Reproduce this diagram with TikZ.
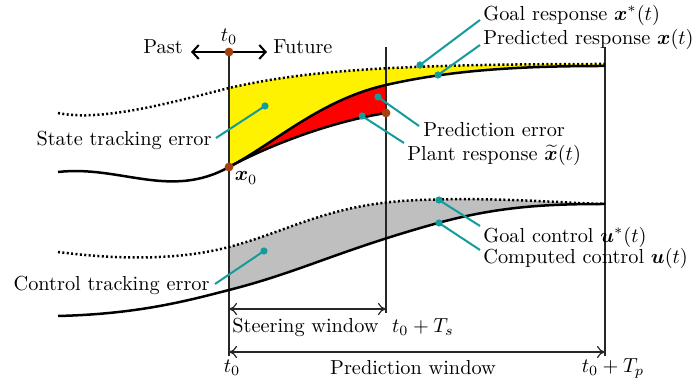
\RequirePackage{fix-cm}
\documentclass[tikz,border=0pt]{standalone}
\usepackage{amsmath,bm}
\usetikzlibrary{arrows.meta}
\definecolor{lead}{RGB}{20,155,155}
\definecolor{dotbrown}{RGB}{165,65,15}
\begin{document}
\begin{tikzpicture}[x=0.5pt,y=-0.5pt,
  every node/.style={font=\fontsize{10.15}{12.2}\selectfont},
  curve/.style={line width=1.25pt},
  goalcurve/.style={line width=1.25pt, dash pattern=on 1pt off 1.2pt},
  vline/.style={line width=0.6pt, black!85},
  leader/.style={draw=lead, line width=1pt},
  ldot/.style={circle, fill=lead, inner sep=0pt, minimum size=3.6pt},
  bdot/.style={circle, fill=dotbrown, inner sep=0pt, minimum size=4.4pt},
  lbl/.style={inner sep=0.5pt},
  winarrow/.style={vline, {To[length=4pt,width=6pt]}-{To[length=4pt,width=6pt]}},
]
\useasboundingbox (0,0) rectangle (695,383);

% fills
\fill[yellow] (229,88) .. controls (300,72) and (380,64) .. (605,64) -- (605,66)
  .. controls (520,66) and (452,70) .. (386,85)
  .. controls (320,100) and (275,143) .. (229,167) -- cycle;
\fill[red] (229,167) .. controls (275,143) and (320,100) .. (386,85) -- (386,113)
  .. controls (330,122) and (270,145) .. (229,167) -- cycle;
\fill[gray!50] (229,247) .. controls (290,231) and (330,203) .. (420,200)
  .. controls (500,197) and (560,203) .. (605,204)
  .. controls (550,204) and (500,206) .. (438,223)
  .. controls (340,250) and (300,272) .. (229,290) -- cycle;

% vertical time lines
\coordinate (t0top) at (229,52);
\coordinate (t0bot) at (229,356);
\coordinate (tstop) at (386,47);
\coordinate (tsbot) at (386,313);
\coordinate (tptop) at (605,47);
\coordinate (tpbot) at (605,356);
\draw[vline] (t0top) -- (t0bot);
\draw[vline] (tstop) -- (tsbot);
\draw[vline] (tptop) -- (tpbot);

% state curves
\draw[goalcurve] (58,113) .. controls (100,122) and (170,103) .. (229,88)
  .. controls (300,72) and (380,64) .. (605,64);
\draw[curve] (58,172) .. controls (120,165) and (170,200) .. (229,167)
  .. controls (270,145) and (330,122) .. (386,113);
\draw[curve] (229,167) .. controls (275,143) and (320,100) .. (386,85)
  .. controls (452,70) and (520,66) .. (605,66);

% control curves
\draw[goalcurve] (58,252) .. controls (120,260) and (180,260) .. (229,247)
  .. controls (290,231) and (330,203) .. (420,200)
  .. controls (500,197) and (560,203) .. (605,204);
\draw[curve] (58,316) .. controls (140,314) and (190,300) .. (229,290)
  .. controls (300,272) and (340,250) .. (438,223)
  .. controls (500,206) and (550,204) .. (605,204);

% past / future
\node[lbl] (past) at (163,47) {Past};
\node[lbl] (future) at (303,47) {Future};
\node[lbl] (t0a) at (229,37) {$t_0$};
\coordinate (pl) at (191,52);
\coordinate (fr) at (267,52);
\draw[line width=1pt, {Straight Barb[length=3.2pt,width=7pt]}-{Straight Barb[length=3.2pt,width=7pt]}] (pl) -- (fr);

% window arrows
\coordinate (sa) at (229,309);
\coordinate (sb) at (386,309);
\coordinate (pa) at (229,352);
\coordinate (pb) at (605,352);
\draw[winarrow] (sa) -- (sb);
\draw[winarrow] (pa) -- (pb);
\node[lbl, anchor=west] (steer) at (231,327) {Steering window};
\node[lbl] (ts) at (423,327) {$t_0+T_s$};
\node[lbl] (predw) at (413,368) {Prediction window};
\node[lbl] (tp) at (613,368) {$t_0+T_p$};
\node[lbl] (t0b) at (232,368) {$t_0$};

% brown dots
\node[bdot] (b1) at (229,52) {};
\node[bdot] (b2) at (229,167) {};
\node[bdot] (b3) at (386,113) {};
\node[lbl] (x0) at (246,178) {$\bm{x}_0$};

% labels
\node[lbl, anchor=west] (lgr) at (482,15) {Goal response $\bm{x}^*(t)$};
\node[lbl, anchor=west] (lpr) at (482,39) {Predicted response $\bm{x}(t)$};
\node[lbl, anchor=west] (lpe) at (422,130) {Prediction error};
\node[lbl, anchor=west] (lpl) at (406,155) {Plant response $\smash{\widetilde{\bm{x}}}(t)$};
\node[lbl, anchor=east] (lst) at (213,140) {State tracking error};
\node[lbl, anchor=east] (lct) at (211,285) {Control tracking error};
\node[lbl, anchor=west] (lgc) at (482,237) {Goal control $\bm{u}^*(t)$};
\node[lbl, anchor=west] (lcc) at (482,258) {Computed control $\bm{u}(t)$};

% leader dots
\node[ldot] (dgr) at (420,65) {};
\node[ldot] (dpr) at (438,75) {};
\node[ldot] (dpe) at (378,97) {};
\node[ldot] (dpl) at (362,116) {};
\node[ldot] (dst) at (265,106) {};
\node[ldot] (dct) at (264,251) {};
\node[ldot] (dgc) at (439,200) {};
\node[ldot] (dcc) at (439,223) {};

\draw[leader] (dgr.center) -- ([xshift=-1pt,yshift=-2.5pt]lgr.west);
\draw[leader] (dpr.center) -- ([xshift=-1pt,yshift=-3pt]lpr.west);
\draw[leader] (dpe.center) -- ([xshift=-1.5pt,yshift=2pt]lpe.west);
\draw[leader] (dpl.center) -- ([xshift=-1pt,yshift=6pt]lpl.west);
\draw[leader] (dst.center) -- ([xshift=1.5pt,yshift=1pt]lst.east);
\draw[leader] (dct.center) -- ([xshift=2pt,yshift=0.5pt]lct.east);
\draw[leader] (dgc.center) -- ([xshift=-1pt,yshift=5.5pt]lgc.west);
\draw[leader] (dcc.center) -- ([xshift=-1pt,yshift=4pt]lcc.west);
\end{tikzpicture}
\end{document}
